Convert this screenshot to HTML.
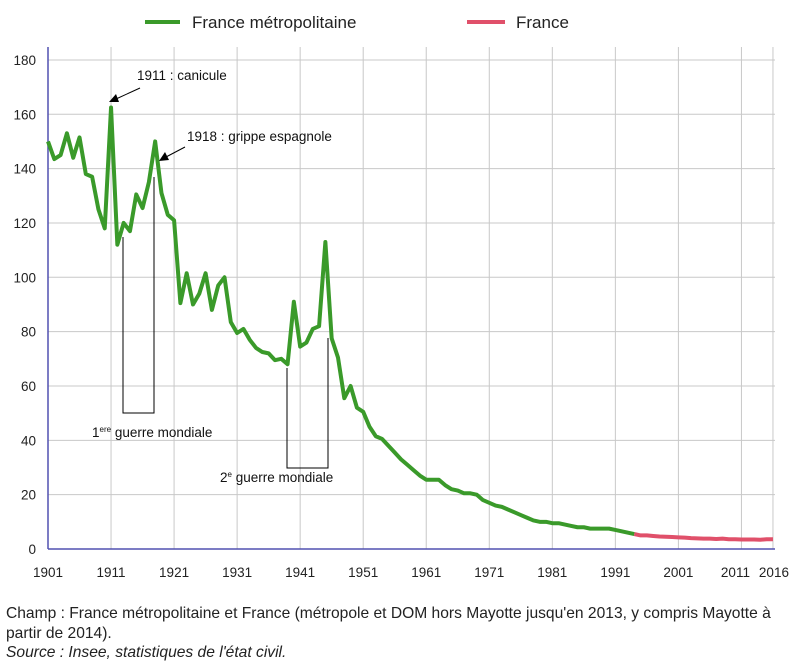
<!DOCTYPE html>
<html><head><meta charset="utf-8"><style>
body{margin:0;background:#fff;width:799px;height:665px;overflow:hidden;font-family:"Liberation Sans",sans-serif}
</style></head><body>
<svg width="799" height="665" xmlns="http://www.w3.org/2000/svg" font-family="Liberation Sans, sans-serif">
<g id="grid" stroke="#c8c8c8" stroke-width="1"></g>
<line x1="48" y1="47" x2="48" y2="549" stroke="#5050b0" stroke-width="1.5"/>
<line x1="48" y1="549" x2="775" y2="549" stroke="#5050b0" stroke-width="1.5"/>
<g id="yl" font-size="13.5" fill="#222" text-anchor="end"></g>
<g id="xl" font-size="13.5" fill="#222" text-anchor="middle"></g>
<polyline id="g" fill="none" stroke="#3a9a2a" stroke-width="4" stroke-linejoin="round"/>
<polyline id="r" fill="none" stroke="#e0506a" stroke-width="4" stroke-linejoin="round"/>
<g stroke="#000" stroke-width="1" fill="none">
<polyline points="123,237 123,413 154,413 154,177"/>
<polyline points="287,368 287,468 328,468 328,338"/>
<line x1="140" y1="88" x2="116" y2="99"/>
<line x1="185" y1="147" x2="166" y2="157"/>
</g>
<polygon points="109,102 116,94 119,102" fill="#000"/>
<polygon points="159,161 165,152 169,160" fill="#000"/>
<g font-size="13.5" fill="#111">
<text x="137" y="80">1911 : canicule</text>
<text x="187" y="141">1918 : grippe espagnole</text>
<text x="92" y="437">1<tspan font-size="8" dy="-5">ere</tspan><tspan dy="5"> guerre mondiale</tspan></text>
<text x="220" y="482">2<tspan font-size="8" dy="-5">e</tspan><tspan dy="5"> guerre mondiale</tspan></text>
</g>
<line x1="145" y1="22" x2="180" y2="22" stroke="#3a9a2a" stroke-width="4"/>
<text x="192" y="28" font-size="17" fill="#222">France métropolitaine</text>
<line x1="467" y1="22" x2="505" y2="22" stroke="#e0506a" stroke-width="4"/>
<text x="516" y="28" font-size="17" fill="#222">France</text>
<g font-size="15.6" fill="#222">
<text x="6" y="618">Champ : France métropolitaine et France (métropole et DOM hors Mayotte jusqu'en 2013, y compris Mayotte à</text>
<text x="6" y="638">partir de 2014).</text>
<text x="6" y="657" font-style="italic">Source : Insee, statistiques de l'état civil.</text>
</g>
</svg>
<script>
const X=y=>48+(y-1901)*6.304, Y=v=>549-v*2.717;
const ns="http://www.w3.org/2000/svg";
function el(p,t,a,txt){const e=document.createElementNS(ns,t);for(const k in a)e.setAttribute(k,a[k]);if(txt!=null)e.textContent=txt;p.appendChild(e);}
const gr=document.getElementById('grid'),yl=document.getElementById('yl'),xl=document.getElementById('xl');
for(let v=20;v<=180;v+=20)el(gr,'line',{x1:48,x2:775,y1:Y(v),y2:Y(v)});
for(let v=0;v<=180;v+=20)el(yl,'text',{x:36,y:Y(v)+5},v);
const yrs=[1901,1911,1921,1931,1941,1951,1961,1971,1981,1991,2001,2011,2016];
yrs.forEach(y=>{if(y>1901)el(gr,'line',{x1:X(y),x2:X(y),y1:47,y2:549});});
yrs.forEach(y=>{let x=X(y);if(y==2011)x-=6;if(y==2016)x+=1;el(xl,'text',{x:x,y:577},y);});
const d=[150,143.5,145,153,144,151.5,138,137,125,118,162.5,112,120,117,130.5,125.5,135,150,131,123,121,90.5,101.5,90,94,101.5,88,97,100,83.5,79.5,81,77,74,72.5,72,69.5,70,68,91,74.5,76,81,82,113,77.5,70.5,55.5,60,52,50.5,45,41.5,40.5,38,35.5,33,31,29,27,25.5,25.5,25.5,23.5,22,21.5,20.5,20.5,20,18,17,16,15.5,14.5,13.5,12.5,11.5,10.5,10,10,9.5,9.5,9,8.5,8,8,7.5,7.5,7.5,7.5,7,6.5,6,5.5];
document.getElementById('g').setAttribute('points',d.map((v,i)=>X(1901+i)+','+Y(v)).join(' '));
const r=[5.5,5,5,4.8,4.6,4.5,4.4,4.3,4.2,4,3.9,3.8,3.8,3.7,3.8,3.6,3.6,3.5,3.5,3.5,3.4,3.6,3.6];
document.getElementById('r').setAttribute('points',r.map((v,i)=>X(1994+i)+','+Y(v)).join(' '));
</script>
</body></html>
